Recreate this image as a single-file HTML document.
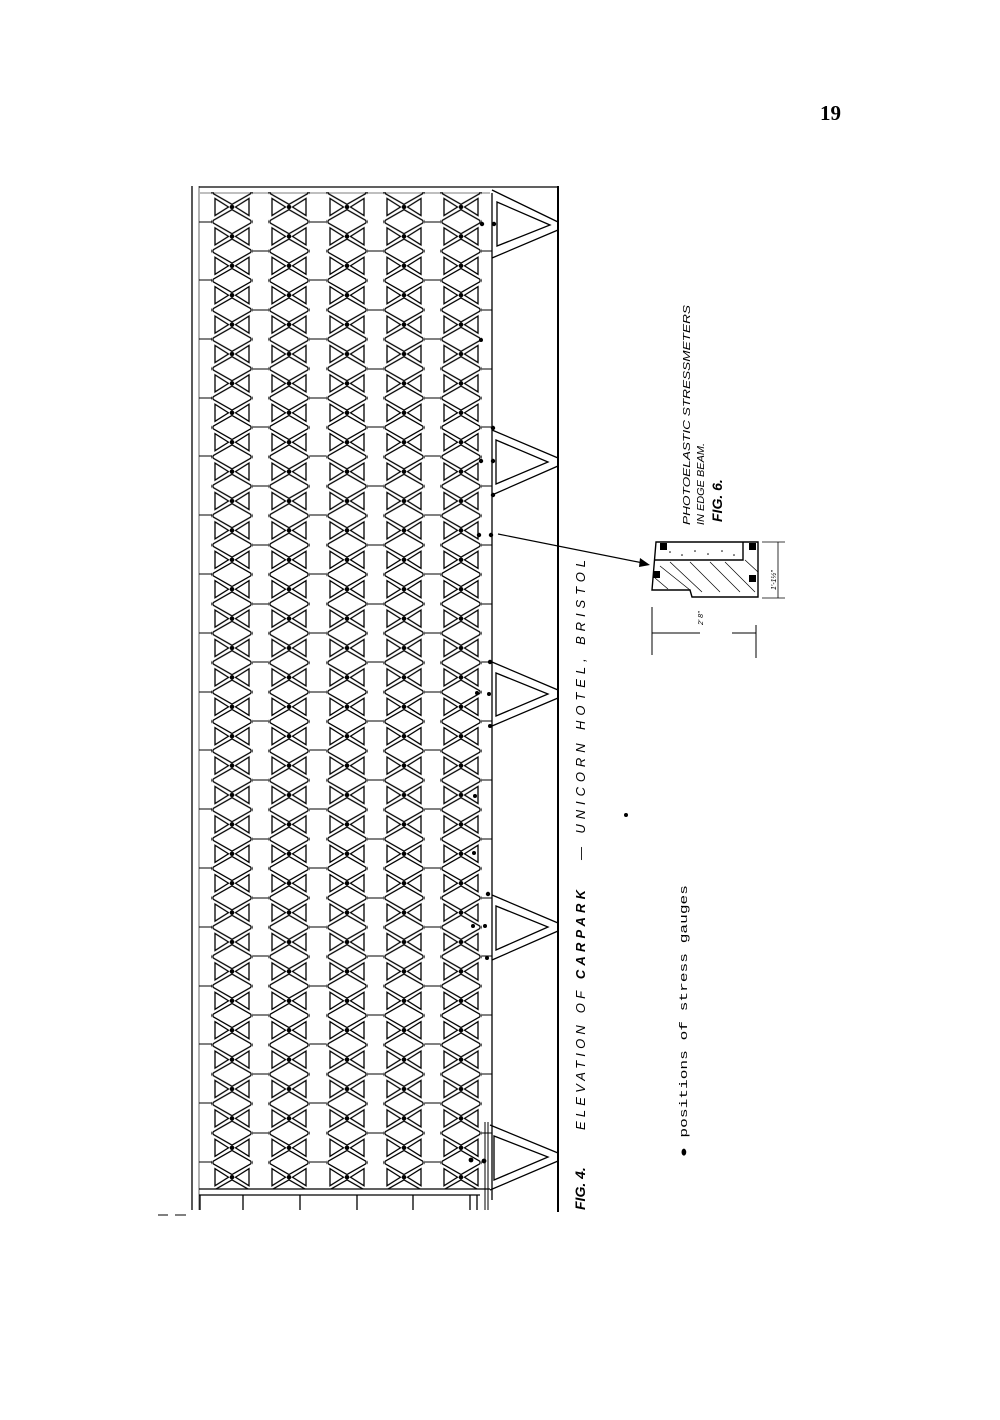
<!DOCTYPE html>
<html><head><meta charset="utf-8"><style>
html,body{margin:0;padding:0;background:#fff}
svg{display:block}
</style></head><body>
<svg width="1000" height="1420" viewBox="0 0 1000 1420" xmlns="http://www.w3.org/2000/svg">
<defs>
<g id="cell" fill="none" stroke="#000" stroke-width="1.3">
  <path d="M20,12 L1,1.2 M20,12 L39,1.2 M20,17.4 L1,28.2 M20,17.4 L39,28.2"/>
  <path d="M1,1.2 L1,-1.2 M39,1.2 L39,-1.2 M1,28.2 L1,30.6 M39,28.2 L39,30.6"/>
  <path d="M16.5,14.7 L3,6.2 L3,23.2 Z M23.5,14.7 L37,6.2 L37,23.2 Z"/>
  <circle cx="20" cy="14.7" r="2.3" fill="#000" stroke="none"/>
</g>
<pattern id="p1" x="212" y="192.3" width="40" height="29.4" patternUnits="userSpaceOnUse"><use href="#cell"/></pattern>
<pattern id="p2" x="269" y="192.3" width="40" height="29.4" patternUnits="userSpaceOnUse"><use href="#cell"/></pattern>
<pattern id="p3" x="327" y="192.3" width="40" height="29.4" patternUnits="userSpaceOnUse"><use href="#cell"/></pattern>
<pattern id="p4" x="384" y="192.3" width="40" height="29.4" patternUnits="userSpaceOnUse"><use href="#cell"/></pattern>
<pattern id="p5" x="441" y="192.3" width="40" height="29.4" patternUnits="userSpaceOnUse"><use href="#cell"/></pattern>
</defs>

<text x="820" y="120" font-family="Liberation Serif, serif" font-weight="bold" font-size="21">19</text>

<g fill="none" stroke="#000" stroke-width="1.3">
  <path d="M192,186 L192,1210"/>
  <path d="M199,186 L199,1210" stroke-width="0.6"/>
  <path d="M199,187 L558,187"/>
  <path d="M200,193 L490,193" stroke-width="0.6"/>
  <path d="M558,186 L558,1212" stroke-width="2"/>
  <path d="M492,193 L492,1200"/>
  <path d="M485,1122 L485,1210" stroke-width="1"/>
  <path d="M488,1122 L488,1210" stroke-width="1"/>
  <path d="M199,1189 L490,1189"/>
  <path d="M199,1195 L480,1195"/>
  <path d="M200,1195 L200,1210 M243,1195 L243,1210 M300,1195 L300,1210 M357,1195 L357,1210 M413,1195 L413,1210 M470,1195 L470,1210 M477,1195 L477,1210"/>
  <path d="M158,1215 L168,1215 M175,1215 L186,1215" stroke-width="1"/>
</g>

<rect x="211" y="192" width="42" height="997" fill="url(#p1)"/>
<rect x="268" y="192" width="42" height="997" fill="url(#p2)"/>
<rect x="326" y="192" width="42" height="997" fill="url(#p3)"/>
<rect x="383" y="192" width="42" height="997" fill="url(#p4)"/>
<rect x="440" y="192" width="42" height="997" fill="url(#p5)"/>

<g stroke="#000" stroke-width="0.9">
  <path d="M199,222 L212,222 M199,280 L212,280 M199,339 L212,339 M199,398 L212,398 M199,456 L212,456 M199,515 L212,515 M199,574 L212,574 M199,633 L212,633 M199,692 L212,692 M199,750 L212,750 M199,809 L212,809 M199,868 L212,868 M199,927 L212,927 M199,986 L212,986 M199,1044 L212,1044 M199,1103 L212,1103 M199,1162 L212,1162"/>
  <path d="M253,251 L268,251 M253,310 L268,310 M253,369 L268,369 M253,427 L268,427 M253,486 L268,486 M253,545 L268,545 M253,604 L268,604 M253,662 L268,662 M253,721 L268,721 M253,780 L268,780 M253,839 L268,839 M253,898 L268,898 M253,956 L268,956 M253,1015 L268,1015 M253,1074 L268,1074 M253,1133 L268,1133"/>
  <path d="M310,222 L326,222 M310,280 L326,280 M310,339 L326,339 M310,398 L326,398 M310,456 L326,456 M310,515 L326,515 M310,574 L326,574 M310,633 L326,633 M310,692 L326,692 M310,750 L326,750 M310,809 L326,809 M310,868 L326,868 M310,927 L326,927 M310,986 L326,986 M310,1044 L326,1044 M310,1103 L326,1103 M310,1162 L326,1162"/>
  <path d="M368,251 L383,251 M368,310 L383,310 M368,369 L383,369 M368,427 L383,427 M368,486 L383,486 M368,545 L383,545 M368,604 L383,604 M368,662 L383,662 M368,721 L383,721 M368,780 L383,780 M368,839 L383,839 M368,898 L383,898 M368,956 L383,956 M368,1015 L383,1015 M368,1074 L383,1074 M368,1133 L383,1133"/>
  <path d="M425,222 L440,222 M425,280 L440,280 M425,339 L440,339 M425,398 L440,398 M425,456 L440,456 M425,515 L440,515 M425,574 L440,574 M425,633 L440,633 M425,692 L440,692 M425,750 L440,750 M425,809 L440,809 M425,868 L440,868 M425,927 L440,927 M425,986 L440,986 M425,1044 L440,1044 M425,1103 L440,1103 M425,1162 L440,1162"/>
  <path d="M482,251 L492,251 M482,310 L492,310 M482,369 L492,369 M482,427 L492,427 M482,486 L492,486 M482,545 L492,545 M482,604 L492,604 M482,662 L492,662 M482,721 L492,721 M482,780 L492,780 M482,839 L492,839 M482,898 L492,898 M482,956 L492,956 M482,1015 L492,1015 M482,1074 L492,1074 M482,1133 L492,1133"/>
</g>

<g fill="none" stroke="#000" stroke-width="1.3">
  <path d="M492,190 L558,222 M492,258 L558,230"/><path d="M497,202 L497,246 L550,225 Z"/>
  <path d="M492,430 L558,458 M492,495 L558,466"/><path d="M496,440 L496,484 L548,462 Z"/>
  <path d="M492,662 L558,690 M492,726 L558,698"/><path d="M496,673 L496,716 L548,694 Z"/>
  <path d="M492,895 L558,923 M492,960 L558,931"/><path d="M496,906 L496,950 L548,927 Z"/>
  <path d="M490,1125 L558,1153 M490,1190 L558,1161"/><path d="M494,1136 L494,1180 L548,1157 Z"/>
</g>

<g fill="#000">
  <circle cx="482" cy="224" r="2.2"/><circle cx="494" cy="224" r="2.2"/>
  <circle cx="481" cy="340" r="2"/><circle cx="493" cy="428" r="2.2"/>
  <circle cx="481" cy="461" r="2.2"/><circle cx="493" cy="461" r="2.2"/>
  <circle cx="493" cy="495" r="2.2"/><circle cx="479" cy="535" r="2.2"/><circle cx="491" cy="535" r="2.2"/>
  <circle cx="490" cy="662" r="2.2"/><circle cx="477" cy="693" r="2"/><circle cx="489" cy="694" r="2"/>
  <circle cx="490" cy="726" r="2"/><circle cx="475" cy="796" r="2"/><circle cx="474" cy="853" r="2"/>
  <circle cx="488" cy="894" r="2.2"/><circle cx="473" cy="926" r="2"/><circle cx="485" cy="926" r="2"/>
  <circle cx="487" cy="958" r="2"/><circle cx="471" cy="1160" r="2.4"/><circle cx="484" cy="1161" r="2.4"/>
  <circle cx="626" cy="815" r="2"/>
</g>

<path d="M498,534 L643,563" stroke="#000" stroke-width="1.2"/>
<path d="M650,565 L640,558 L639,567 Z" fill="#000"/>

<g fill="none" stroke="#000" stroke-width="1.4">
  <path d="M656,542 L758,542 L758,597 L692,597 L690,590 L652,590 Z"/>
  <path d="M655,560 L743,560 L743,542"/>
  <path d="M660,566 L690,590 M670,562 L702,592 M690,562 L720,592 M710,562 L740,592 M725,562 L755,592 M745,560 L758,572 M655,578 L668,589" stroke-width="0.7"/>
  <path d="M652,607 L652,655 M652,633 L700,633 M756,625 L756,658 M732,633 L756,633" stroke-width="1"/>
  <path d="M778,542 L778,598 M762,542 L785,542 M762,598 L785,598" stroke-width="0.8"/>
</g>
<g fill="#000">
  <rect x="660" y="543" width="7" height="7"/><rect x="749" y="543" width="7" height="7"/>
  <rect x="653" y="571" width="7" height="7"/><rect x="749" y="575" width="7" height="7"/>
  <circle cx="670" cy="552" r="0.8"/><circle cx="682" cy="555" r="0.8"/><circle cx="695" cy="551" r="0.8"/><circle cx="708" cy="554" r="0.8"/><circle cx="722" cy="551" r="0.8"/><circle cx="734" cy="555" r="0.8"/>
</g>
<g font-family="Liberation Sans, sans-serif" font-size="7" font-style="italic">
  <text transform="translate(703,625) rotate(-90)">2' 8"</text>
  <text transform="translate(776,590) rotate(-90)">1'-1½"</text>
</g>

<g font-family="Liberation Sans, sans-serif" font-style="italic">
  <text transform="translate(690,525) rotate(-90)" font-size="10.5" textLength="220" lengthAdjust="spacingAndGlyphs">PHOTOELASTIC  STRESSMETERS</text>
  <text transform="translate(704,525) rotate(-90)" font-size="10.5" textLength="82" lengthAdjust="spacingAndGlyphs">IN  EDGE  BEAM.</text>
  <text transform="translate(722,522) rotate(-90)" font-size="14" font-weight="bold">FIG. 6.</text>
</g>

<g font-family="Liberation Sans, sans-serif" font-style="italic">
  <text transform="translate(585,1210) rotate(-90)" font-size="14" font-weight="bold">FIG. 4.</text>
  <text transform="translate(585,1130) rotate(-90)" font-size="13" textLength="240" lengthAdjust="spacing">ELEVATION   OF   <tspan font-weight="bold">CARPARK</tspan></text>
  <text transform="translate(585,860) rotate(-90)" font-size="13" textLength="300" lengthAdjust="spacing">—  UNICORN   HOTEL,   BRISTOL</text>
</g>
<text transform="translate(687,1157) rotate(-90)" font-family="Liberation Mono, monospace" font-size="11" textLength="272" lengthAdjust="spacingAndGlyphs">● positions of stress gauges</text>
</svg>
</body></html>
